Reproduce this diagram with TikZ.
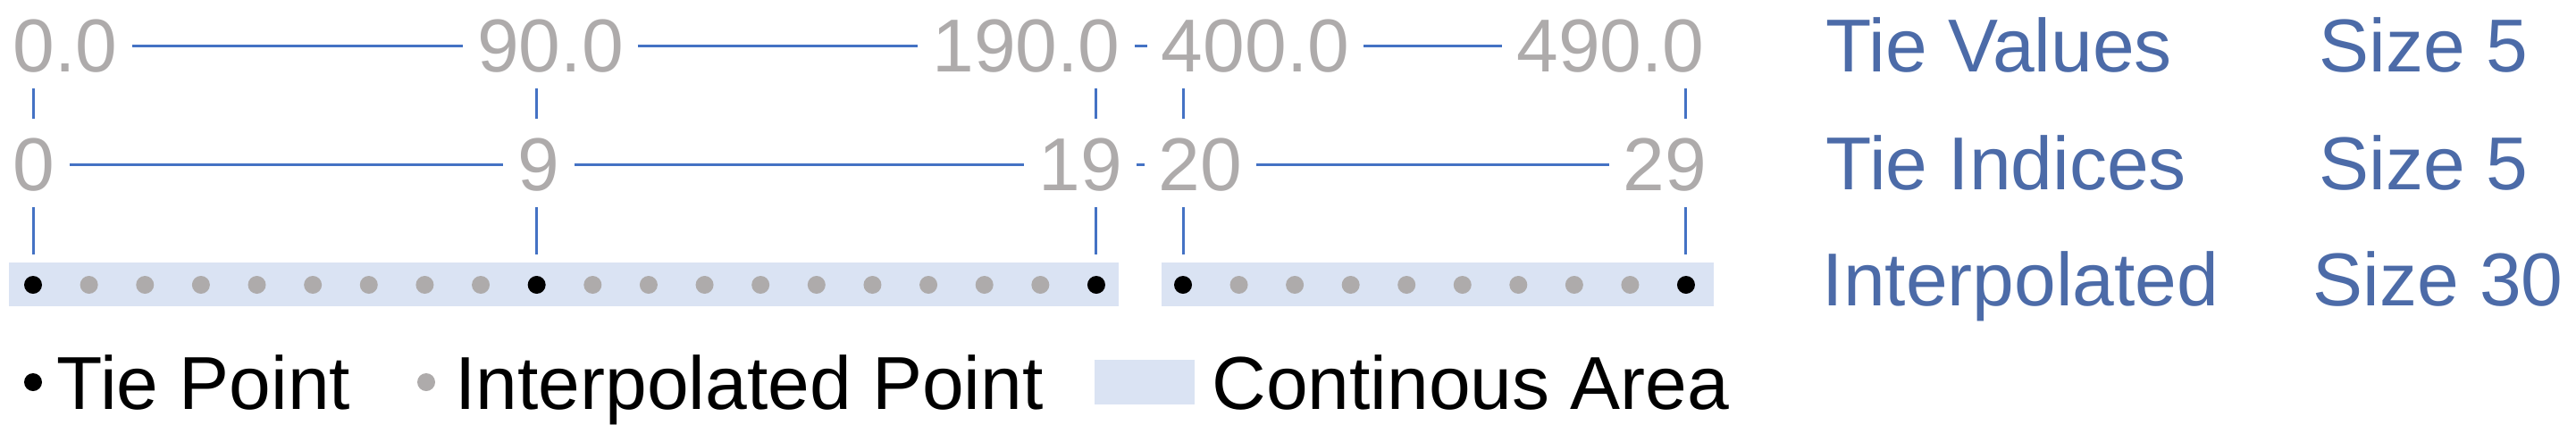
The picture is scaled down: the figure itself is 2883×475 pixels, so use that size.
\documentclass[tikz,border=0pt]{standalone}
\usepackage{fontspec}
\setmainfont{Liberation Sans}
\definecolor{lineblue}{HTML}{4472C4}
\definecolor{labelblue}{HTML}{4C6BA8}
\definecolor{txtgray}{HTML}{AEABAB}
\definecolor{stripfill}{HTML}{DAE3F3}
\begin{document}
\begin{tikzpicture}[x=1pt,y=-1pt,
  lbl/.style={font=\fontsize{84}{100}\selectfont, inner sep=0pt, anchor=base},
  val/.style={lbl, text=txtgray},
  side/.style={lbl, text=labelblue},
  leg/.style={lbl, text=black},
  conn/.style={draw=lineblue, line width=3pt, shorten <=16pt, shorten >=16pt},
  tickline/.style={draw=lineblue, line width=3pt},
  dot/.style={circle, draw=none, minimum size=20pt, inner sep=0pt},
  area/.style={fill=stripfill, draw=none, inner sep=0pt}]

\path[use as bounding box] (0,0) rectangle (2883,475);

% continuous areas
\node[area, minimum width=1242pt, minimum height=49pt] (s1) at (631,318.5) {};
\node[area, minimum width=618pt, minimum height=49pt] (s2) at (1609,318.5) {};

% points
\foreach \k in {0,...,19}{
  \ifnum\k=0 \def\dc{black}\else\ifnum\k=9 \def\dc{black}\else\ifnum\k=19 \def\dc{black}\else\def\dc{txtgray}\fi\fi\fi
  \node[dot, fill=\dc] (p\k) at ({37+62.63*\k},319) {};
}
\foreach \k in {20,...,29}{
  \ifnum\k=20 \def\dc{black}\else\ifnum\k=29 \def\dc{black}\else\def\dc{txtgray}\fi\fi
  \node[dot, fill=\dc] (p\k) at ({1324+62.55*(\k-20)},319) {};
}

% tie values
\node[val] (v0) at (73,80) {0.0};
\node[val] (v1) at (616,80) {90.0};
\node[val] (v2) at (1148.5,80) {190.0};
\node[val] (v3) at (1405,80) {400.0};
\node[val] (v4) at (1802.5,80) {490.0};
\draw[conn] (v0) -- (v1);
\draw[conn] (v1) -- (v2);
\draw[conn] (v2) -- (v3);
\draw[conn] (v3) -- (v4);

% tie indices
\node[val] (i0) at (38,213) {0};
\node[val] (i1) at (603,213) {9};
\node[val] (i2) at (1209,213) {19};
\node[val] (i3) at (1343.5,213) {20};
\node[val] (i4) at (1863.5,213) {29};
\draw[conn] (i0) -- (i1);
\draw[conn] (i1) -- (i2);
\draw[conn] (i2) -- (i3);
\draw[conn] (i3) -- (i4);

% vertical ticks
\foreach \n in {0,9,19,20,29}{
  \path (p\n) ++(0,-220) coordinate (ua\n);
  \path (p\n) ++(0,-186) coordinate (ub\n);
  \path (p\n) ++(0,-87) coordinate (la\n);
  \path (p\n) ++(0,-34) coordinate (lb\n);
  \draw[tickline] (ua\n) -- (ub\n);
  \draw[tickline] (la\n) -- (lb\n);
}

% right-hand labels
\node[side] (tv) at (2237,80) {Tie Values};
\node[side] (tvs) at (2712.5,80) {Size 5};
\node[side] (ti) at (2245.5,212) {Tie Indices};
\node[side] (tis) at (2712.5,212) {Size 5};
\node[side] (ip) at (2261.5,342) {Interpolated};
\node[side] (ips) at (2728.5,342) {Size 30};

% legend
\node[dot, fill=black] (lt) at (37,428) {};
\node[leg] (ltt) at (228,458) {Tie Point};
\node[dot, fill=txtgray] (li) at (477,428) {};
\node[leg] (lit) at (838.5,458) {Interpolated Point};
\node[area, minimum width=112pt, minimum height=50pt] (la) at (1281,428) {};
\node[leg] (lat) at (1646,458) {Continous Area};
\end{tikzpicture}
\end{document}
